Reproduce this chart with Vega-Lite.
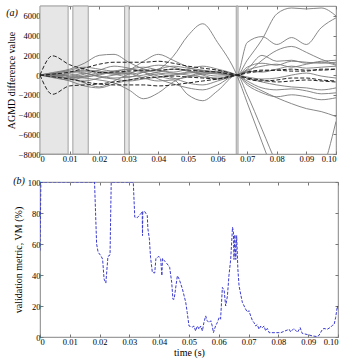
{
  "$schema": "https://vega.github.io/schema/vega-lite/v6.json",
  "padding": {"left": 5, "top": 5, "right": 5, "bottom": 4},
  "spacing": 12,
  "datasets": {
    "agmd": [
      {"t": 0, "S1": 0, "S2": 0, "S3": 0, "S4": 0, "S5": 0, "S6": 0, "S7": 0, "S8": 0, "S9": 0, "S10": 0, "S11": 0, "S12": 0, "S13": 0, "S14": 0, "D1": 0, "D2": 0, "D3": 0, "D4": 0},
      {"t": 0.0042, "S1": 250, "S2": -150, "S3": 180, "S4": 80, "S5": -250, "S6": 90, "S7": -80, "S8": 170, "S9": -170, "S10": 40, "S11": -90, "S12": 90, "S13": -40, "S14": 130, "D1": 1950, "D2": 90, "D3": -1950, "D4": -170},
      {"t": 0.01, "S1": 600, "S2": 200, "S3": -100, "S4": -300, "S5": -500, "S6": 300, "S7": -400, "S8": 500, "S9": -600, "S10": -100, "S11": 100, "S12": -200, "S13": -300, "S14": 400, "D1": 1050, "D2": 300, "D3": -1100, "D4": -400},
      {"t": 0.015, "S1": 1200, "S2": 400, "S3": -300, "S4": -100, "S5": -200, "S6": 500, "S7": -600, "S8": 800, "S9": -1100, "S10": 200, "S11": -200, "S12": -800, "S13": 100, "S14": 200, "D1": 600, "D2": 700, "D3": -1000, "D4": -700},
      {"t": 0.02, "S1": 2000, "S2": 300, "S3": -500, "S4": 200, "S5": 0, "S6": 400, "S7": -300, "S8": 600, "S9": -1300, "S10": -200, "S11": 100, "S12": -1200, "S13": 500, "S14": -100, "D1": 250, "D2": 1100, "D3": -900, "D4": -900},
      {"t": 0.025, "S1": 2100, "S2": 100, "S3": -800, "S4": 100, "S5": 300, "S6": 200, "S7": 0, "S8": 400, "S9": -900, "S10": -400, "S11": 400, "S12": -600, "S13": 900, "S14": -300, "D1": 300, "D2": 1300, "D3": -700, "D4": -1000},
      {"t": 0.03, "S1": 1300, "S2": 500, "S3": -1500, "S4": -200, "S5": 200, "S6": 100, "S7": 200, "S8": 600, "S9": -500, "S10": -600, "S11": 600, "S12": 100, "S13": 700, "S14": -200, "D1": 400, "D2": 1300, "D3": -500, "D4": -1000},
      {"t": 0.035, "S1": 600, "S2": 1400, "S3": -2400, "S4": 300, "S5": -300, "S6": 300, "S7": 500, "S8": 800, "S9": -200, "S10": -400, "S11": 300, "S12": 700, "S13": 300, "S14": 0, "D1": 500, "D2": 1300, "D3": -300, "D4": -1000},
      {"t": 0.04, "S1": 200, "S2": 2100, "S3": -1800, "S4": 600, "S5": -600, "S6": 600, "S7": 400, "S8": 500, "S9": 100, "S10": -200, "S11": -100, "S12": 1000, "S13": -400, "S14": 300, "D1": 500, "D2": 1400, "D3": -200, "D4": -1100},
      {"t": 0.045, "S1": 100, "S2": 1500, "S3": -700, "S4": 1900, "S5": -500, "S6": 900, "S7": 200, "S8": 300, "S9": -300, "S10": 0, "S11": -400, "S12": 800, "S13": -900, "S14": 600, "D1": 600, "D2": 1200, "D3": -100, "D4": -1000},
      {"t": 0.05, "S1": 300, "S2": 800, "S3": -100, "S4": 4000, "S5": -2000, "S6": 700, "S7": 0, "S8": 600, "S9": -800, "S10": 200, "S11": -200, "S12": 400, "S13": -1300, "S14": 400, "D1": 500, "D2": 900, "D3": -200, "D4": -800},
      {"t": 0.055, "S1": 400, "S2": 300, "S3": 200, "S4": 5200, "S5": -2600, "S6": 500, "S7": -200, "S8": 900, "S9": -1000, "S10": 300, "S11": 100, "S12": 0, "S13": -1500, "S14": 100, "D1": 400, "D2": 700, "D3": -300, "D4": -600},
      {"t": 0.06, "S1": 200, "S2": 100, "S3": 300, "S4": 3300, "S5": -1600, "S6": 300, "S7": -300, "S8": 600, "S9": -600, "S10": 400, "S11": 200, "S12": -400, "S13": -1000, "S14": -100, "D1": 300, "D2": 500, "D3": -400, "D4": -400},
      {"t": 0.0665, "S1": 0, "S2": 0, "S3": 0, "S4": 0, "S5": 0, "S6": 0, "S7": 0, "S8": 0, "S9": 0, "S10": 0, "S11": 0, "S12": 0, "S13": 0, "S14": 0, "D1": 0, "D2": 0, "D3": 0, "D4": 0},
      {"t": 0.07, "S1": 1500, "S2": 3300, "S3": -800, "S4": -2800, "S5": -2000, "S6": 800, "S7": 500, "S8": -600, "S9": 300, "S10": -300, "S11": 400, "S12": -200, "S13": -1000, "S14": 600, "D1": 200, "D2": -400, "D3": 300, "D4": -300},
      {"t": 0.075, "S1": 3600, "S2": 3900, "S3": -1600, "S4": -6800, "S5": -5500, "S6": 1200, "S7": 900, "S8": -1300, "S9": 1500, "S10": -700, "S11": 300, "S12": -400, "S13": -1800, "S14": 2000, "D1": 400, "D2": -600, "D3": 500, "D4": -500},
      {"t": 0.08, "S1": 6200, "S2": 3100, "S3": -2300, "S4": -10800, "S5": -9000, "S6": 1000, "S7": 1100, "S8": -1500, "S9": 2500, "S10": -1000, "S11": 600, "S12": -300, "S13": -2200, "S14": 1400, "D1": 500, "D2": -500, "D3": 500, "D4": -700},
      {"t": 0.085, "S1": 6800, "S2": 3800, "S3": -2900, "S4": -14800, "S5": -11500, "S6": 1400, "S7": 800, "S8": -1400, "S9": 2900, "S10": -1200, "S11": 900, "S12": 0, "S13": -2000, "S14": 1500, "D1": 600, "D2": -300, "D3": 400, "D4": -600},
      {"t": 0.09, "S1": 6700, "S2": 3100, "S3": -3400, "S4": -18000, "S5": -12000, "S6": 1300, "S7": 1100, "S8": -1600, "S9": 2300, "S10": -1300, "S11": 700, "S12": 200, "S13": -2200, "S14": 1200, "D1": 500, "D2": -300, "D3": 400, "D4": -500},
      {"t": 0.095, "S1": 6800, "S2": 4800, "S3": -3700, "S4": -20000, "S5": -10000, "S6": 1200, "S7": 1300, "S8": -1900, "S9": 1600, "S10": -1500, "S11": 800, "S12": -100, "S13": -2500, "S14": 1400, "D1": 500, "D2": -500, "D3": 600, "D4": -600},
      {"t": 0.1, "S1": 6000, "S2": 5800, "S3": -4200, "S4": -21000, "S5": -4700, "S6": 1300, "S7": 1000, "S8": -1800, "S9": 1100, "S10": -1300, "S11": 900, "S12": -300, "S13": -2300, "S14": 1500, "D1": 600, "D2": -600, "D3": 600, "D4": -700}
    ],
    "bands": [
      {"x0": 0, "x1": 0.0095},
      {"x0": 0.0111, "x1": 0.0163},
      {"x0": 0.0286, "x1": 0.0301},
      {"x0": 0.0663, "x1": 0.0669}
    ],
    "vm": [
      {"t": 0, "vm": 55.7}, {"t": 0.0003, "vm": 100}, {"t": 0.0183, "vm": 100}, {"t": 0.019, "vm": 60},
      {"t": 0.0195, "vm": 54.7}, {"t": 0.0204, "vm": 52.5}, {"t": 0.021, "vm": 50.3}, {"t": 0.0215, "vm": 37.4},
      {"t": 0.0221, "vm": 34.8}, {"t": 0.0228, "vm": 52}, {"t": 0.0235, "vm": 52.9}, {"t": 0.0239, "vm": 100},
      {"t": 0.0313, "vm": 100}, {"t": 0.0318, "vm": 77.3}, {"t": 0.0326, "vm": 76.9}, {"t": 0.0338, "vm": 79.5},
      {"t": 0.0343, "vm": 81}, {"t": 0.0344, "vm": 65.4}, {"t": 0.0345, "vm": 81}, {"t": 0.0351, "vm": 81},
      {"t": 0.036, "vm": 78.4}, {"t": 0.0362, "vm": 69.9}, {"t": 0.0367, "vm": 63.3}, {"t": 0.0371, "vm": 51.4},
      {"t": 0.0377, "vm": 41.7}, {"t": 0.0385, "vm": 41.3}, {"t": 0.0389, "vm": 50.7}, {"t": 0.0399, "vm": 52},
      {"t": 0.0405, "vm": 50.3}, {"t": 0.0409, "vm": 39.6}, {"t": 0.0411, "vm": 50.7}, {"t": 0.042, "vm": 48.6},
      {"t": 0.0427, "vm": 47.1}, {"t": 0.0435, "vm": 45}, {"t": 0.0442, "vm": 35.2}, {"t": 0.0446, "vm": 24.4},
      {"t": 0.045, "vm": 24.4}, {"t": 0.0461, "vm": 39.5}, {"t": 0.0467, "vm": 37.4}, {"t": 0.0478, "vm": 30.9},
      {"t": 0.0489, "vm": 22.4}, {"t": 0.0494, "vm": 15.8}, {"t": 0.05, "vm": 7.1}, {"t": 0.0511, "vm": 6.4},
      {"t": 0.0517, "vm": 7.1}, {"t": 0.0522, "vm": 3.9}, {"t": 0.0528, "vm": 7.1}, {"t": 0.0534, "vm": 5},
      {"t": 0.0539, "vm": 7.1}, {"t": 0.0545, "vm": 3.9}, {"t": 0.055, "vm": 9.3}, {"t": 0.0556, "vm": 13.6},
      {"t": 0.0561, "vm": 10.5}, {"t": 0.0567, "vm": 9.3}, {"t": 0.0573, "vm": 10.5}, {"t": 0.0578, "vm": 7.1},
      {"t": 0.0582, "vm": 2.8}, {"t": 0.0589, "vm": 7.1}, {"t": 0.0595, "vm": 9.3}, {"t": 0.0601, "vm": 12.5},
      {"t": 0.0606, "vm": 11.5}, {"t": 0.0612, "vm": 32}, {"t": 0.0618, "vm": 30}, {"t": 0.0623, "vm": 20},
      {"t": 0.0629, "vm": 26.5}, {"t": 0.0634, "vm": 39.5}, {"t": 0.064, "vm": 50.3}, {"t": 0.0646, "vm": 70.8},
      {"t": 0.0649, "vm": 68}, {"t": 0.0651, "vm": 50}, {"t": 0.0654, "vm": 66}, {"t": 0.0657, "vm": 50},
      {"t": 0.066, "vm": 65.4}, {"t": 0.0664, "vm": 43.8}, {"t": 0.0668, "vm": 33}, {"t": 0.0674, "vm": 27},
      {"t": 0.0679, "vm": 22.4}, {"t": 0.0685, "vm": 20}, {"t": 0.069, "vm": 18}, {"t": 0.0696, "vm": 16},
      {"t": 0.0701, "vm": 17}, {"t": 0.0707, "vm": 13.6}, {"t": 0.0713, "vm": 10.5}, {"t": 0.0718, "vm": 9.3},
      {"t": 0.0724, "vm": 7.1}, {"t": 0.0729, "vm": 8}, {"t": 0.0735, "vm": 5}, {"t": 0.0741, "vm": 7.1},
      {"t": 0.0746, "vm": 6}, {"t": 0.0752, "vm": 7.1}, {"t": 0.0757, "vm": 4}, {"t": 0.0763, "vm": 5.5},
      {"t": 0.0769, "vm": 2.8}, {"t": 0.0785, "vm": 2.8}, {"t": 0.0808, "vm": 2.8}, {"t": 0.083, "vm": 4.5},
      {"t": 0.0836, "vm": 5}, {"t": 0.0841, "vm": 3.3}, {"t": 0.0852, "vm": 5.5}, {"t": 0.0864, "vm": 3},
      {"t": 0.0873, "vm": 6}, {"t": 0.088, "vm": 2.3}, {"t": 0.0897, "vm": 1.6}, {"t": 0.0914, "vm": 0.7},
      {"t": 0.0929, "vm": 0.3}, {"t": 0.0936, "vm": 1}, {"t": 0.0942, "vm": 3}, {"t": 0.0948, "vm": 5},
      {"t": 0.0953, "vm": 5.5}, {"t": 0.0964, "vm": 5}, {"t": 0.0976, "vm": 6.4}, {"t": 0.0981, "vm": 7.5},
      {"t": 0.0987, "vm": 8}, {"t": 0.0992, "vm": 12.5}, {"t": 0.0998, "vm": 20}, {"t": 0.1, "vm": 18}
    ]
  },
  "vconcat": [
    {
      "width": 296,
      "height": 148,
      "title": {"text": "(a)", "anchor": "start", "frame": "bounds", "offset": -12, "fontStyle": "italic", "fontWeight": "normal", "fontSize": 10, "font": "Liberation Serif", "color": "#000"},
      "resolve": {"axis": {"x": "independent", "y": "independent"}},
      "layer": [
        {
          "data": {"name": "bands"},
          "mark": {"type": "rect", "fill": "#e6e6e6", "stroke": "#a0a0a0", "strokeWidth": 1},
          "encoding": {
            "x": {"field": "x0", "type": "quantitative", "scale": {"domain": [0, 0.1], "nice": false}, "axis": null},
            "x2": {"field": "x1"}
          }
        },
        {
          "data": {"name": "agmd"},
          "transform": [{"fold": ["S1", "S2", "S3", "S4", "S5", "S6", "S7", "S8", "S9", "S10", "S11", "S12", "S13", "S14"], "as": ["series", "v"]}],
          "mark": {"type": "line", "color": "#7a7a7a", "strokeWidth": 0.9, "interpolate": "monotone", "clip": true},
          "encoding": {
            "x": {"field": "t", "type": "quantitative", "scale": {"domain": [0, 0.1], "nice": false},
              "axis": {"values": [0, 0.01, 0.02, 0.03, 0.04, 0.05, 0.06, 0.07, 0.08, 0.09, 0.1], "labelExpr": "datum.value == 0 ? '0' : format(datum.value, '.2f')", "title": null}},
            "y": {"field": "v", "type": "quantitative", "scale": {"domain": [-8000, 7000], "nice": false},
              "axis": {"values": [-8000, -6000, -4000, -2000, 0, 2000, 4000, 6000], "format": "d", "title": "AGMD difference value", "titlePadding": 2}},
            "detail": {"field": "series"}
          }
        },
        {
          "data": {"name": "agmd"},
          "transform": [{"fold": ["D1", "D2", "D3", "D4"], "as": ["series", "v"]}],
          "mark": {"type": "line", "color": "#222222", "strokeWidth": 1, "strokeDash": [4, 2], "interpolate": "monotone", "clip": true},
          "encoding": {
            "x": {"field": "t", "type": "quantitative", "scale": {"domain": [0, 0.1], "nice": false}, "axis": null},
            "y": {"field": "v", "type": "quantitative", "scale": {"domain": [-8000, 7000], "nice": false}, "axis": null},
            "detail": {"field": "series"}
          }
        },
        {
          "data": {"name": "bands"},
          "mark": {"type": "point", "opacity": 0},
          "encoding": {
            "x": {"field": "x0", "type": "quantitative", "scale": {"domain": [0, 0.1], "nice": false},
              "axis": {"orient": "top", "labels": false, "title": null, "values": [0, 0.01, 0.02, 0.03, 0.04, 0.05, 0.06, 0.07, 0.08, 0.09, 0.1]}},
            "y": {"datum": 0, "type": "quantitative", "scale": {"domain": [-8000, 7000], "nice": false},
              "axis": {"orient": "right", "labels": false, "title": null, "values": [-8000, -6000, -4000, -2000, 0, 2000, 4000, 6000]}}
          }
        }
      ]
    },
    {
      "width": 298,
      "height": 155,
      "title": {"text": "(b)", "anchor": "start", "frame": "bounds", "offset": -8, "fontStyle": "italic", "fontWeight": "normal", "fontSize": 10, "font": "Liberation Serif", "color": "#000"},
      "resolve": {"axis": {"x": "independent", "y": "independent"}},
      "layer": [
        {
          "data": {"name": "vm"},
          "mark": {"type": "line", "color": "#3b3bd0", "strokeWidth": 1, "strokeDash": [3, 1.5], "clip": true},
          "encoding": {
            "x": {"field": "t", "type": "quantitative", "scale": {"domain": [0, 0.1], "nice": false},
              "axis": {"values": [0, 0.01, 0.02, 0.03, 0.04, 0.05, 0.06, 0.07, 0.08, 0.09, 0.1], "labelExpr": "datum.value == 0 ? '0' : format(datum.value, '.2f')", "title": "time (s)", "titlePadding": 2}},
            "y": {"field": "vm", "type": "quantitative", "scale": {"domain": [0, 100], "nice": false},
              "axis": {"values": [0, 20, 40, 60, 80, 100], "title": "validation metric, VM (%)", "titlePadding": 4}}
          }
        },
        {
          "data": {"name": "bands"},
          "mark": {"type": "point", "opacity": 0},
          "encoding": {
            "x": {"field": "x0", "type": "quantitative", "scale": {"domain": [0, 0.1], "nice": false},
              "axis": {"orient": "top", "labels": false, "title": null, "values": [0, 0.01, 0.02, 0.03, 0.04, 0.05, 0.06, 0.07, 0.08, 0.09, 0.1]}},
            "y": {"datum": 0, "type": "quantitative", "scale": {"domain": [0, 100], "nice": false},
              "axis": {"orient": "right", "labels": false, "title": null, "values": [0, 20, 40, 60, 80, 100]}}
          }
        }
      ]
    }
  ],
  "config": {
    "font": "Liberation Serif",
    "view": {"stroke": "#666", "strokeWidth": 0.8},
    "axis": {
      "labelFont": "Liberation Serif", "labelFontSize": 8.5, "labelColor": "#000",
      "titleFont": "Liberation Serif", "titleFontSize": 10, "titleFontWeight": "normal", "titleColor": "#000",
      "grid": false, "domain": false, "tickColor": "#777", "tickSize": -3, "labelPadding": 3, "titlePadding": 4
    }
  }
}
